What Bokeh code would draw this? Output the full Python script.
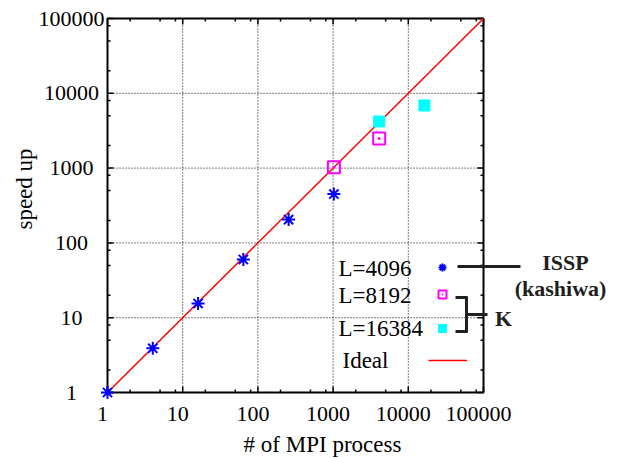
import math
from bokeh.plotting import figure
from bokeh.models import Legend, LegendItem, Label, Arrow, Range1d
from bokeh.core.properties import value
from bokeh.embed import file_html
from bokeh.resources import INLINE

# ---- data ----
mpi_4096 = [1, 4, 16, 64, 256, 1024]
speedup_4096 = [1, 3.9, 15.5, 60, 205, 450]
mpi_8192 = [1024, 4096]
speedup_8192 = [1024, 2490]
mpi_16384 = [4096, 16384]
speedup_16384 = [4200, 6870]
ideal_x = [1, 100000]
ideal_y = [1, 100000]
major_ticks = [1, 10, 100, 1000, 10000, 100000]
tick_labels = ["1", "10", "100", "1000", "10000", "100000"]
minor_mantissas = [2, 5, 8]
series_labels = ["L=4096", "L=8192", "L=16384", "Ideal"]
group_labels = ["ISSP", "(kashiwa)", "K"]
x_title = "# of MPI process"
y_title = "speed up"

minor_ticks = [m * t for t in major_ticks[:-1] for m in minor_mantissas]
inner_ticks = major_ticks[1:-1]
axis_min, axis_max = major_ticks[0], major_ticks[-1]

FONT = "Liberation Serif"
TICK_FS = "22px"
TEXT_FS = "23px"
INK = "#231f20"

W, H = 621, 458
AX_L, AX_R, AX_T, AX_B = 107, 483, 18, 392   # pixel box of the axes (page coords)

# The plotting frame covers the whole page (so nothing is clipped); the log ranges
# are stretched so that the axes box lands at the pixel box above.
decades = math.log10(axis_max / axis_min)
ppd_x = (AX_R - AX_L) / decades
ppd_y = (AX_B - AX_T) / decades
x_start = axis_min * 10 ** (-AX_L / ppd_x)
x_end = axis_max * 10 ** ((W - AX_R) / ppd_x)
y_start = axis_min * 10 ** (-(H - AX_B) / ppd_y)
y_end = axis_max * 10 ** (AX_T / ppd_y)

p = figure(width=W, height=H, x_axis_type="log", y_axis_type="log",
           x_axis_location=None, y_axis_location=None,
           x_range=Range1d(x_start, x_end), y_range=Range1d(y_start, y_end),
           output_backend="svg", toolbar_location=None, min_border=0,
           min_border_left=0, min_border_right=0, min_border_top=0,
           min_border_bottom=0)
p.outline_line_color = None
p.background_fill_color = "white"
p.border_fill_color = "white"
p.grid.visible = False


def sy(y_page):
    """page pixel row -> screen units measured from the frame bottom"""
    return H - y_page


n_maj, n_in = len(major_ticks), len(inner_ticks)

# dotted grid at the inner major ticks
p.segment(x0=inner_ticks, y0=[axis_min] * n_in, x1=inner_ticks, y1=[axis_max] * n_in,
          line_color="black", line_dash="1 2", line_width=1)
p.segment(x0=[axis_min] * n_in, y0=inner_ticks, x1=[axis_max] * n_in, y1=inner_ticks,
          line_color="black", line_dash="1 2", line_width=1)

# axes box
p.quad(left=[axis_min], right=[axis_max], bottom=[axis_min], top=[axis_max],
       fill_color=None, line_color="black", line_width=2)

# inward ticks on all four sides
for ticks, ln in ((major_ticks, 6), (minor_ticks, 3)):
    n = len(ticks)
    p.ray(x=ticks, y=[axis_min] * n, length=ln, length_units="screen",
          angle=math.pi / 2, line_color="black", line_width=1.5)
    p.ray(x=ticks, y=[axis_max] * n, length=ln, length_units="screen",
          angle=-math.pi / 2, line_color="black", line_width=1.5)
    p.ray(x=[axis_min] * n, y=ticks, length=ln, length_units="screen",
          angle=0.0, line_color="black", line_width=1.5)
    p.ray(x=[axis_max] * n, y=ticks, length=ln, length_units="screen",
          angle=math.pi, line_color="black", line_width=1.5)

# tick labels
p.text(x=major_ticks, y=[axis_min] * n_maj, text=tick_labels,
       x_offset=-5, y_offset=21, text_align="center", text_baseline="middle",
       text_font=value(FONT), text_font_size=TICK_FS, text_color="black")
p.text(x=[axis_min] * n_maj, y=major_ticks, text=tick_labels,
       x_offset=-36, text_align="center", text_baseline="middle",
       text_font=value(FONT), text_font_size=TICK_FS, text_color="black")

# axis titles
p.add_layout(Label(x=322, y=sy(444), x_units="screen", y_units="screen",
                   text=x_title, text_font=FONT, text_font_size=TEXT_FS,
                   text_color="black", text_align="center",
                   text_baseline="middle"))
p.add_layout(Label(x=24, y=sy(188.5), x_units="screen", y_units="screen",
                   text=y_title, angle=math.pi / 2, text_font=FONT,
                   text_font_size=TEXT_FS, text_color="black",
                   text_align="center", text_baseline="middle"))

# data
r_ideal = p.line(ideal_x, ideal_y, line_color="red", line_width=1.5)
r1 = p.scatter(mpi_4096, speedup_4096, marker="asterisk", size=13,
               line_color="blue", line_width=2)
r2 = p.scatter(mpi_8192, speedup_8192, marker="square_dot", size=12,
               line_color="magenta", fill_color=None, line_width=2)
r3 = p.scatter(mpi_16384, speedup_16384, marker="square", size=11,
               fill_color="cyan", line_color="cyan")


def legend_sample(r, cx, cy_page, gw):
    lg = Legend(items=[LegendItem(label=value(" "), renderers=[r])],
                location=(cx - gw / 2, sy(cy_page) - 10), glyph_width=gw,
                glyph_height=20, label_height=20, label_width=0, label_standoff=0,
                padding=0, margin=0, spacing=0, border_line_color=None,
                background_fill_alpha=0, label_text_font_size="1px")
    p.add_layout(lg, "center")


legend_sample(r1, 441.5, 267, 20)
legend_sample(r2, 442, 294, 20)
legend_sample(r3, 442, 328, 20)
legend_sample(r_ideal, 447.5, 360, 39)

for txt, x, y in zip(series_labels, [338, 338, 338, 342], [268, 295, 328, 360]):
    p.add_layout(Label(x=x, y=sy(y), x_units="screen", y_units="screen", text=txt,
                       text_font=FONT, text_font_size=TEXT_FS, text_color="black",
                       text_baseline="middle", text_align="left"))

for txt, x, y in zip(group_labels, [565, 560, 503], [262, 288, 318]):
    p.add_layout(Label(x=x, y=sy(y), x_units="screen", y_units="screen", text=txt,
                       text_font=FONT, text_font_size="22px", text_font_style="bold",
                       text_color=INK, text_baseline="middle", text_align="center"))

segments = [((457, 266), (520, 266)),
            ((466, 296), (466, 332)),
            ((455, 297), (467, 297)),
            ((455, 331), (467, 331)),
            ((466, 314), (487, 314))]
for (x0, y0), (x1, y1) in segments:
    p.add_layout(Arrow(end=None, x_start=x0, y_start=sy(y0), x_end=x1, y_end=sy(y1),
                       start_units="screen", end_units="screen",
                       line_width=3, line_color=INK))

open("out.html", "w").write(file_html(p, INLINE))
